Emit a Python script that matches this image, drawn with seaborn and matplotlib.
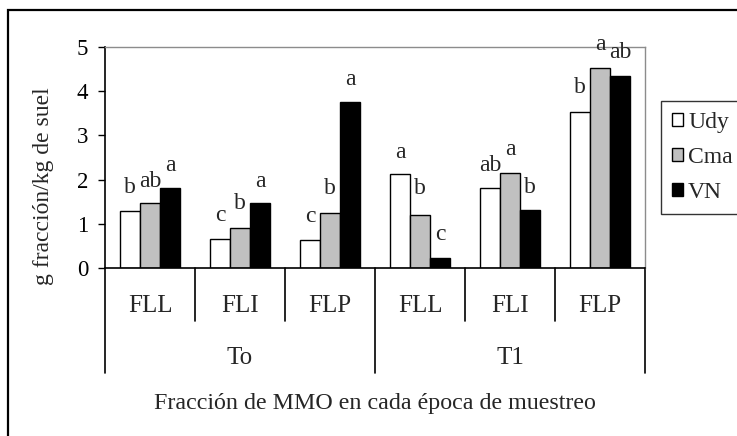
import numpy as np
import pandas as pd
import matplotlib
matplotlib.use("Agg")
import matplotlib.pyplot as plt
import matplotlib.transforms as mtransforms
from matplotlib.patches import Rectangle
import seaborn as sns

# Data
epocas = ["To", "To", "To", "T1", "T1", "T1"]
fracciones = ["FLL", "FLI", "FLP", "FLL", "FLI", "FLP"]
suelos = ["Udy", "Cma", "VN"]
udy = [1.30, 0.66, 0.63, 2.13, 1.80, 3.54]
cma = [1.46, 0.90, 1.25, 1.21, 2.15, 4.52]
vn = [1.81, 1.47, 3.76, 0.22, 1.32, 4.35]

# significance letters and the height they sit at
letras_udy = ["b", "c", "c", "a", "ab", "b"]
letras_cma = ["ab", "b", "b", "b", "a", "a"]
letras_vn = ["a", "a", "a", "c", "b", "ab"]
alto_udy = [1.82, 1.19, 1.16, 2.62, 2.32, 4.08]
alto_cma = [1.96, 1.46, 1.79, 1.79, 2.67, 5.06]
alto_vn = [2.32, 1.96, 4.27, 0.75, 1.83, 4.87]

ylabel = "g fracción/kg de suel"
xlabel = "Fracción de MMO en cada época de muestreo"

# Build long dataframe for seaborn
cats = [f"{e} {f}" for e, f in zip(epocas, fracciones)]
rows = []
for serie, vals in zip(suelos, [udy, cma, vn]):
    for c, v in zip(cats, vals):
        rows.append({"cat": c, "suelo": serie, "valor": v})
df = pd.DataFrame(rows)

sns.set_style("white")
plt.rcParams["font.family"] = ["Liberation Serif", "DejaVu Serif"]

fig = plt.figure(figsize=(7.37, 4.36), dpi=100)
ax = fig.add_axes([105 / 737, 1 - 268 / 436, 540 / 737, 221 / 436])

sns.barplot(data=df, x="cat", y="valor", hue="suelo", order=cats,
            hue_order=suelos, palette=["white", "#c0c0c0", "black"],
            edgecolor="black", linewidth=1, width=2 / 3, gap=0,
            saturation=1, ax=ax, legend=True)

ax.set_ylim(0, 5)
ax.set_xlim(-0.5, 5.5)
ax.set_yticks(range(6))
ax.tick_params(axis="y", direction="out", length=5, width=1, labelsize=16.5,
               pad=7, left=True, colors="black")
ax.set_xticks([])
ax.set_xlabel("")
ax.set_ylabel("")
fig.text(44 / 737, 1 - 186.5 / 436, ylabel, rotation=90, ha="center",
         va="center", fontsize=17)

for side in ["top", "right"]:
    ax.spines[side].set_color("#8c8c8c")
    ax.spines[side].set_linewidth(1)
for side in ["left", "bottom"]:
    ax.spines[side].set_color("black")
    ax.spines[side].set_linewidth(1.2)

# letters above bars
offs = [-2 / 9, 0, 2 / 9]
for o, letras, altos in zip(offs, [letras_udy, letras_cma, letras_vn],
                            [alto_udy, alto_cma, alto_vn]):
    for i, (l, h) in enumerate(zip(letras, altos)):
        ax.text(i + o, h, l, ha="center", va="center", fontsize=17)

# multi-level category axis
trans = mtransforms.blended_transform_factory(ax.transData, ax.transAxes)
short_y = -53 / 221
long_y = -105 / 221
for x in np.arange(-0.5, 6, 1):
    bottom = long_y if x in (-0.5, 2.5, 5.5) else short_y
    ax.plot([x, x], [0, bottom], transform=trans, color="black", lw=1.2,
            clip_on=False)
for i, f in enumerate(fracciones):
    ax.text(i, -38 / 221, f, transform=trans, ha="center", va="center",
            fontsize=18)
for e, xc in zip(["To", "T1"], [1, 4]):
    ax.text(xc, -90 / 221, e, transform=trans, ha="center", va="center",
            fontsize=18)
ax.text(2.5, -135 / 221, xlabel, transform=trans, ha="center", va="center",
        fontsize=17.3)

# legend
handles, labels = ax.get_legend_handles_labels()
ax.legend_.remove()
leg = fig.legend(handles, labels, loc="upper left",
                 bbox_to_anchor=(661 / 737, 1 - 101 / 436), fontsize=17,
                 frameon=True, fancybox=False, edgecolor="black",
                 handlelength=0.5, handleheight=0.5, handletextpad=0.2,
                 labelspacing=0.6, borderpad=0.45, borderaxespad=0)
leg.get_frame().set_linewidth(1)

# outer chart frame (cropped on right and bottom)
fig.patches.append(Rectangle((8 / 737, -0.1), 1.2, 1 - 10 / 436 + 0.1,
                             transform=fig.transFigure, fill=False,
                             edgecolor="black", lw=1.6))

fig.savefig("out.png", dpi=100)
